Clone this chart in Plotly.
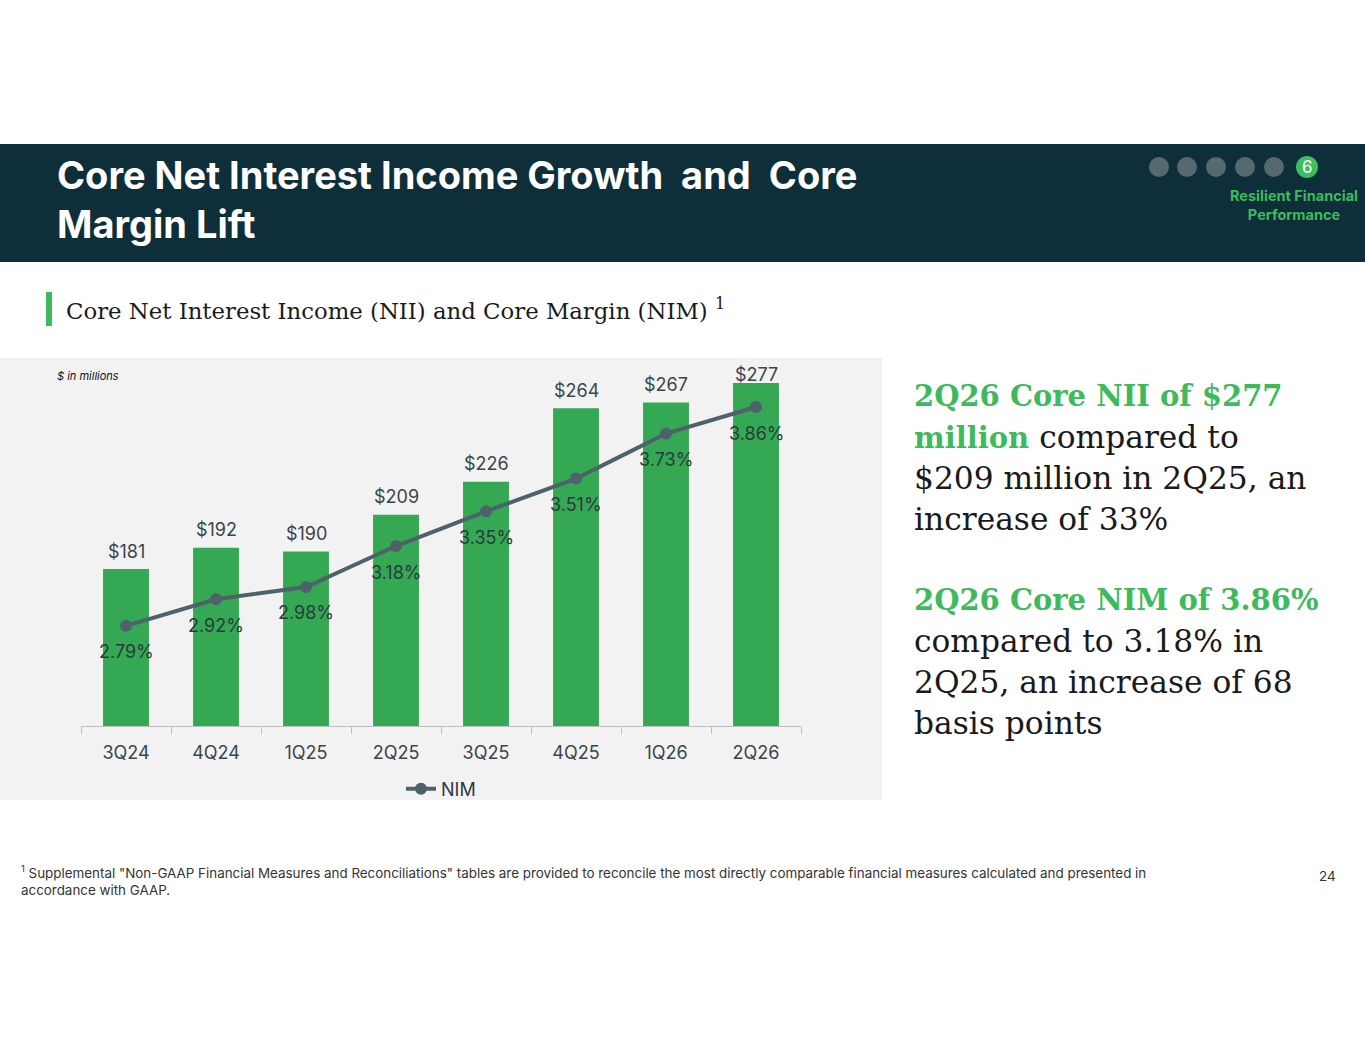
import plotly.graph_objects as go

# data
quarters = ["3Q24", "4Q24", "1Q25", "2Q25", "3Q25", "4Q25", "1Q26", "2Q26"]
core_nii = [181, 192, 190, 209, 226, 264, 267, 277]
core_nim = [2.79, 2.92, 2.98, 3.18, 3.35, 3.51, 3.73, 3.86]

W, H = 1365, 1055
GREEN = "#34a853"
TEXT_GREEN = "#3dba5c"
NAVY = "#0e2f39"
LINE = "#4e626a"


def px(x):
    return x / W


def py(y):
    return 1 - y / H


fig = go.Figure()

fig.add_trace(go.Bar(
    x=quarters, y=core_nii, name="Core NII",
    marker=dict(color=GREEN, line=dict(width=0)),
    showlegend=False, hoverinfo="skip",
))
fig.add_trace(go.Scatter(
    x=quarters, y=core_nim, name="NIM", yaxis="y2",
    mode="lines+markers",
    line=dict(color=LINE, width=4),
    marker=dict(color=LINE, size=12),
    hoverinfo="skip",
))

label_font = dict(family="Inter, Lato, sans-serif", size=18, color="#3a464c")
# last label sits tight on its bar (top of chart area), as in the source slide
label_shift = [18, 18, 18, 18, 18, 18, 18, 9]
annotations = []
for q, v, s in zip(quarters, core_nii, label_shift):
    annotations.append(dict(x=q, y=v, xref="x", yref="y", text=f"${v}",
                            showarrow=False, yshift=s, font=label_font))
for q, v in zip(quarters, core_nim):
    annotations.append(dict(x=q, y=v, xref="x", yref="y2", text=f"{v:.2f}%",
                            showarrow=False, yshift=-26,
                            font=dict(family="Inter, Lato, sans-serif", size=18, color="#2c3a3f")))


def note(x, y, text, size, color="#1a1a1a", family="Inter, sans-serif",
         xanchor="left", align="left"):
    annotations.append(dict(x=px(x), y=py(y), xref="paper", yref="paper",
                            xanchor=xanchor, yanchor="middle", align=align,
                            showarrow=False, text=text,
                            font=dict(family=family, size=size, color=color)))


# header
note(55, 199, "<b>Core Net Interest Income Growth  and  Core<br>Margin Lift</b>", 38, "white")
note(1307, 167, "6", 17, "white", xanchor="center", align="center")
note(1294, 205, "<b>Resilient Financial<br>Performance</b>", 14.5, TEXT_GREEN,
     xanchor="center", align="center")

# subtitle
note(64, 309, "Core Net Interest Income (NII) and Core Margin (NIM) <sup>1</sup>", 22.8,
     family="DejaVu Serif, serif")
note(55, 376, "<i>$ in millions</i>", 11, "#111111")

# commentary on the right
bold_style = f"color:{TEXT_GREEN};font-size:29px"
right_lines = [
    (396, f"<b><span style='{bold_style}'>2Q26 Core NII of $277</span></b>"),
    (437, f"<b><span style='{bold_style}'>million</span></b> compared to"),
    (478, "$209 million in 2Q25, an"),
    (519, "increase of 33%"),
    (600, f"<b><span style='{bold_style}'>2Q26 Core NIM of 3.86%</span></b>"),
    (641, "compared to 3.18% in"),
    (682, "2Q25, an increase of 68"),
    (723, "basis points"),
]
for yy, t in right_lines:
    note(912, yy, t, 31.3, family="DejaVu Serif, serif")

# footnote
note(19, 880, "<sup>1</sup> Supplemental \"Non-GAAP Financial Measures and Reconciliations\" tables are "
     "provided to reconcile the most directly comparable financial measures calculated and presented in"
     "<br>accordance with GAAP.", 13.4, "#333333")
note(1338, 876, "24", 13.5, "#333333", xanchor="right")

shapes = [
    dict(type="rect", xref="paper", yref="paper", x0=0, x1=1, y0=py(262), y1=py(144),
         fillcolor=NAVY, line=dict(width=0), layer="below"),
    dict(type="rect", xref="paper", yref="paper", x0=0, x1=px(882), y0=py(800), y1=py(358),
         fillcolor="#f2f2f2", line=dict(width=0), layer="below"),
    dict(type="rect", xref="paper", yref="paper", x0=px(46), x1=px(52), y0=py(326), y1=py(292),
         fillcolor=TEXT_GREEN, line=dict(width=0)),
]
for cx in [1159, 1187, 1216, 1245, 1274]:
    shapes.append(dict(type="circle", xref="paper", yref="paper",
                       x0=px(cx - 10), x1=px(cx + 10), y0=py(177), y1=py(157),
                       fillcolor="#56696e", line=dict(width=0)))
shapes.append(dict(type="circle", xref="paper", yref="paper",
                   x0=px(1296), x1=px(1318), y0=py(178), y1=py(156),
                   fillcolor="#3dbd5d", line=dict(width=0)))

fig.update_layout(
    width=W, height=H,
    margin=dict(l=0, r=0, t=0, b=0),
    paper_bgcolor="white",
    plot_bgcolor="rgba(0,0,0,0)",
    bargap=0.49,
    font=dict(family="Inter, Lato, sans-serif"),
    xaxis=dict(domain=[px(81), px(801)], type="category", range=[-0.5, 7.5],
               showline=True, linecolor="#bfbfbf", linewidth=1,
               ticks="outside", tickson="boundaries", ticklen=7, tickcolor="#bfbfbf",
               showgrid=False, ticklabelstandoff=10,
               tickfont=dict(size=18, color="#3a464c")),
    yaxis=dict(domain=[py(726), py(338.5)], range=[100, 300], visible=False),
    yaxis2=dict(domain=[py(726), py(338.5)], range=[2.30, 4.195], overlaying="y",
                visible=False),
    legend=dict(orientation="h", x=px(441), y=py(789), xanchor="center", yanchor="middle",
                font=dict(size=18, color="#2c3a3f"), bgcolor="rgba(0,0,0,0)"),
    annotations=annotations,
    shapes=shapes,
)

fig.write_html("out.html", config={"displayModeBar": False},
               post_script="document.body.style.margin='0';")
